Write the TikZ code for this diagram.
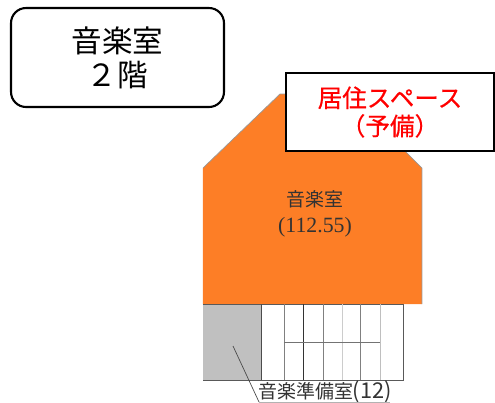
\documentclass[tikz,border=0pt]{standalone}
\usepackage{fontspec}
\usepackage{xcolor}
\setmainfont{Liberation Serif}
\newfontfamily\jpsans{Noto Sans CJK JP}
\newfontfamily\jpheavy[FakeBold=0.4]{Noto Sans CJK JP}
\definecolor{roomorange}{HTML}{FD7E26}
\definecolor{roomgray}{HTML}{C0C0C0}
\usetikzlibrary{positioning}

\begin{document}
\begin{tikzpicture}[
    x=0.02cm, y=-0.02cm,
    titlebox/.style={rectangle, rounded corners=0.3cm, draw=black, line width=1.2pt, fill=white, minimum width=4.26cm, minimum height=1.98cm, align=center, font=\jpsans\fontsize{17.4pt}{19.5pt}\selectfont},
    notebox/.style={rectangle, draw=black, line width=1.2pt, fill=white, minimum width=4.16cm, minimum height=1.56cm, align=center, text=red, font=\jpheavy\fontsize{14pt}{16pt}\selectfont},
    planlabel/.style={inner sep=0pt, text=black!80, font=\jpsans\fontsize{10.8pt}{12pt}\selectfont},
    gridline/.style={draw=black!55, line width=0.5pt},
]
\useasboundingbox (0,0) rectangle (495,403);

% Floor plan
\fill[roomorange] (203,168) -- (280,94) -- (340,94) -- (405,151) -- (422,168) -- (422,304) -- (203,304) -- cycle;
\draw[black!40, line width=0.4pt] (203,168) -- (280,94) -- (340,94);
\draw[black!40, line width=0.4pt] (405,151) -- (422,168) -- (422,304);
\fill[roomgray] (203,304) rectangle (261,380);

% Stairs and small rooms
\draw[black!65, line width=0.5pt] (203,304) -- (403,304) -- (403,380) -- (203,380);
\foreach \gx/\gshade in {261/70, 284/50, 303/80, 323/50, 342/20, 360/50, 380/25} {
    \draw[black!\gshade, line width=0.5pt] (\gx,304) -- (\gx,380);
}
\draw[gridline] (284,342) -- (380,342);

% Labels
\node[titlebox] (title) at (117.5,57.5) {音楽室\\２階};
\node[notebox] (note) at (390,112) {\raisebox{-2pt}{居住スペース}\\\raisebox{-2pt}{（予備）}};
\node[planlabel] (hall) at (315,199) {音楽室};
\node[planlabel, font=\fontsize{12.4pt}{14pt}\selectfont] (hallsize) at (315,227) {(112.55)};
\node[planlabel] (prep) at (325,391.5) {音楽準備室\fontsize{12.4pt}{14pt}\selectfont(12)};

% Leader
\coordinate (leaderstart) at (233,346);
\coordinate (leaderbend) at (259,402);
\coordinate (leaderend) at (390,402);
\draw[black!70, line width=0.4pt] (leaderstart) -- (leaderbend);
\draw[black!30, line width=0.5pt] (leaderbend) -- (leaderend);

\end{tikzpicture}
\end{document}
